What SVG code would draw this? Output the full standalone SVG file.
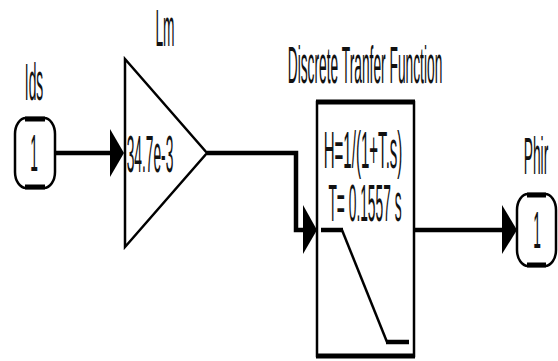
<svg xmlns="http://www.w3.org/2000/svg" width="558" height="361" viewBox="0 0 558 361">
<style>
  .t { font-family: "Liberation Sans", Arial, sans-serif; font-size: 52px; fill: #111; text-anchor: middle; }
  .thin { fill: none; stroke: #000; stroke-width: 2.5; }
  .thick { fill: none; stroke: #000; stroke-width: 5; }
  .wire { fill: none; stroke: #000; stroke-width: 4.5; }
  .head { fill: #000; stroke: none; }
</style>
<rect width="558" height="361" fill="#fff"/>

<g id="connectors">
  <polyline class="wire" points="55,153 111,153"/>
  <polygon class="head" points="110,129 124,153 110,177"/>
  <polyline class="wire" points="207,153 296,153 296,230 304,230"/>
  <polygon class="head" points="303,205 317,230 303,254"/>
  <polyline class="wire" points="414,230 504,230"/>
  <polygon class="head" points="502,205 517,230 502,254"/>
</g>

<g id="inport-ids">
  <rect class="thin" x="15" y="118" width="40" height="70" rx="11" ry="16"/>
  <line class="thick" x1="25" y1="119" x2="45" y2="119"/>
  <line class="thick" x1="25" y1="187" x2="45" y2="187"/>
  <text class="t" transform="translate(34,171) scale(0.265,1)">1</text>
  <text class="t" transform="translate(34,100) scale(0.265,1)">Ids</text>
</g>

<g id="gain-lm">
  <polygon class="thin" points="125,59 207,153 125,247"/>
  <text class="t" transform="translate(150,172) scale(0.265,1)">34.7e-3</text>
  <text class="t" transform="translate(165,46) scale(0.265,1)">Lm</text>
</g>

<g id="tf">
  <rect class="thin" x="317" y="102" width="97" height="254"/>
  <line class="thick" x1="316" y1="102" x2="415" y2="102"/>
  <line class="thick" x1="316" y1="356" x2="415" y2="356"/>
  <text class="t" transform="translate(365,83) scale(0.265,1)">Discrete Tranfer Function</text>
  <text class="t" transform="translate(363,168) scale(0.29,1)">H=1/(1+T.s)</text>
  <text class="t" transform="translate(365,221) scale(0.265,1)">T= 0.1557 s</text>
  <polyline fill="none" stroke="#000" stroke-width="2.5" points="342,230 387,342"/>
  <line stroke="#000" stroke-width="4.5" x1="321" y1="230" x2="343" y2="230"/>
  <line stroke="#000" stroke-width="4.5" x1="386" y1="342" x2="409" y2="342"/>
</g>

<g id="outport-phir">
  <rect class="thin" x="517" y="194" width="39" height="72" rx="11" ry="16"/>
  <line class="thick" x1="527" y1="195" x2="546" y2="195"/>
  <line class="thick" x1="527" y1="265" x2="546" y2="265"/>
  <text class="t" transform="translate(537,248) scale(0.265,1)">1</text>
  <text class="t" transform="translate(536,174) scale(0.265,1)">Phir</text>
</g>
</svg>
